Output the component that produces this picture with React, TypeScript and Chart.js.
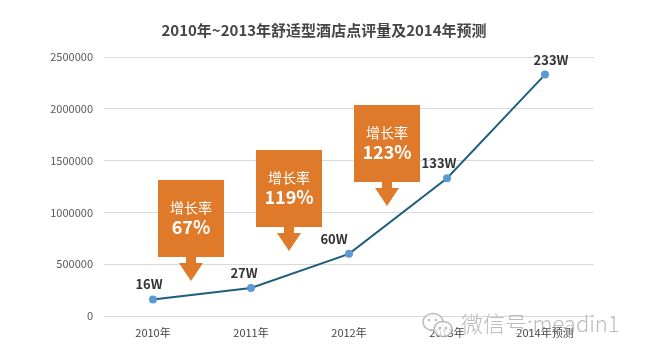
import React, { useEffect, useRef } from "react";
import { Chart, registerables } from "chart.js";

Chart.register(...registerables);

const TITLE = "2010年~2013年舒适型酒店点评量及2014年预测";
const categories = ["2010年", "2011年", "2012年", "2013年", "2014年预测"];
const reviewCounts = [160000, 270000, 600000, 1330000, 2330000];
const pointLabels = ["16W", "27W", "60W", "133W", "233W"];
const yTicks = [0, 500000, 1000000, 1500000, 2000000, 2500000];
const growthRates = ["67%", "119%", "123%"];
const growthTitle = "增长率";
const calloutTopValues = [1313000, 1602000, 2037000];
const WATERMARK = "微信号:meadin1";

const FONT = "'Noto Sans CJK SC', 'Noto Sans', sans-serif";
const ORANGE = "#DE7A2A";

const labelDx = [-4, -7, -15, -8, 6];

const overlayPlugin = {
  id: "overlay",
  afterDatasetsDraw(chart: any) {
    const ctx = chart.ctx;
    const xs = chart.scales.x;
    const ys = chart.scales.y;
    ctx.save();
    // title
    ctx.fillStyle = "#454545";
    ctx.font = `bold 15px ${FONT}`;
    ctx.textAlign = "center";
    ctx.textBaseline = "middle";
    ctx.fillText(TITLE, 324, 30);

    // point labels
    const meta = chart.getDatasetMeta(0);
    ctx.font = `bold 13px ${FONT}`;
    ctx.fillStyle = "#333333";
    meta.data.forEach((pt: any, i: number) => {
      ctx.fillText(pointLabels[i], pt.x + labelDx[i], pt.y - 15);
    });

    // callouts
    growthRates.forEach((rate, i) => {
      const cx = Math.round(xs.getPixelForValue(i + 0.39));
      const top = Math.round(ys.getPixelForValue(calloutTopValues[i]));
      const w = 66, h = 77;
      ctx.fillStyle = ORANGE;
      ctx.fillRect(cx - w / 2, top, w, h);
      ctx.fillRect(cx - 5, top + h, 10, 7);
      ctx.beginPath();
      ctx.moveTo(cx - 12, top + h + 6);
      ctx.lineTo(cx + 12, top + h + 6);
      ctx.lineTo(cx, top + h + 24);
      ctx.closePath();
      ctx.fill();
      ctx.fillStyle = "#ffffff";
      ctx.font = `14px ${FONT}`;
      ctx.fillText(growthTitle, cx, top + 28);
      ctx.font = `bold 18px ${FONT}`;
      ctx.fillText(rate, cx, top + 47);
    });
    ctx.restore();
  },
  afterDraw(chart: any) {
    const ctx = chart.ctx;
    ctx.save();
    // watermark icon: two speech bubbles
    ctx.strokeStyle = "rgba(175,175,175,0.85)";
    ctx.lineWidth = 1.5;
    ctx.fillStyle = "rgba(255,255,255,0.75)";
    ctx.beginPath();
    ctx.ellipse(433, 322, 10, 8.5, 0, 0, Math.PI * 2);
    ctx.fill();
    ctx.stroke();
    ctx.beginPath();
    ctx.ellipse(443, 329, 9, 7.5, 0, 0, Math.PI * 2);
    ctx.fill();
    ctx.stroke();
    ctx.fillStyle = "rgba(175,175,175,0.9)";
    [[429, 320], [436, 320], [440, 328], [446, 328]].forEach(([x, y]) => {
      ctx.beginPath();
      ctx.arc(x, y, 1.2, 0, Math.PI * 2);
      ctx.fill();
    });
    ctx.fillStyle = "rgba(165,165,165,0.75)";
    ctx.font = `300 22px ${FONT}`;
    ctx.textAlign = "left";
    ctx.textBaseline = "middle";
    ctx.fillText(WATERMARK, 461, 324);
    ctx.restore();
  },
};

export default function App() {
  const ref = useRef<HTMLCanvasElement | null>(null);
  useEffect(() => {
    document.body.style.margin = "0";
    const chart = new Chart(ref.current as HTMLCanvasElement, {
      type: "line",
      data: {
        labels: categories,
        datasets: [
          {
            data: reviewCounts,
            borderColor: "#1E5F7E",
            borderWidth: 2,
            pointBackgroundColor: "#5B9BD5",
            pointBorderColor: "#5B9BD5",
            pointRadius: 3,
            tension: 0,
          },
        ],
      },
      options: {
        animation: false,
        responsive: false,
        maintainAspectRatio: false,
        layout: { padding: { top: 57, right: 52, bottom: 0, left: 0 } },
        plugins: {
          legend: { display: false },
          title: { display: false },
          tooltip: { enabled: false },
        },
        scales: {
          x: {
            offset: true,
            grid: { display: false, drawTicks: false },
            border: { display: false },
            ticks: {
              color: "#444444",
              font: { family: FONT, size: 11 },
              padding: 10,
              maxRotation: 0,
            },
            afterFit(scale: any) {
              scale.height = 42;
            },
          },
          y: {
            min: 0,
            max: 2500000,
            afterBuildTicks(scale: any) {
              scale.ticks = yTicks.map((v) => ({ value: v }));
            },
            grid: { color: "#d9d9d9", drawTicks: false, lineWidth: 1 },
            border: { display: false },
            ticks: {
              color: "#595959",
              font: { family: FONT, size: 11 },
              padding: 11,
              callback: (v: any) => String(v),
            },
            afterFit(scale: any) {
              scale.width = 104;
            },
          },
        },
      },
      plugins: [overlayPlugin],
    });
    return () => chart.destroy();
  }, []);
  return (
    <div style={{ position: "absolute", left: 0, top: 0, width: 646, height: 358, background: "#fff" }}>
      <canvas ref={ref} width={646} height={358} style={{ width: 646, height: 358 }} />
    </div>
  );
}
